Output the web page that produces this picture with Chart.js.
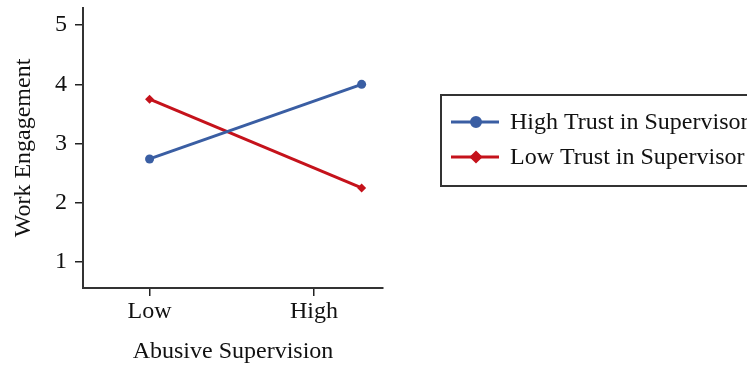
<!DOCTYPE html>
<html>
<head>
<meta charset="utf-8">
<script src="https://cdn.jsdelivr.net/npm/chart.js@4.4.1/dist/chart.umd.min.js"></script>
<style>
  html, body { margin: 0; padding: 0; background: #fff; }
  canvas { display: block; }
</style>
</head>
<body>
<canvas id="chart" width="747" height="367"></canvas>
<script>
// Data
const xTickValues = [0, 1];
const xTickLabels = ['Low', 'High'];
const pointX = [0, 1.29];          // where the points sit along the x axis
const highTrust = [2.74, 4.0];
const lowTrust = [3.75, 2.25];
const yTicks = [1, 2, 3, 4, 5];
const seriesNames = ['High Trust in Supervisor', 'Low Trust in Supervisor'];

const FONT = 'Liberation Serif, Times New Roman, serif';
const BLUE = '#3a5ea3';
const RED = '#c5121b';

// legend drawn as a framed box to the right, like the original
const boxLegend = {
  id: 'boxLegend',
  afterDraw(chart) {
    const ctx = chart.ctx;
    ctx.save();
    ctx.strokeStyle = '#333';
    ctx.lineWidth = 2;
    ctx.strokeRect(441, 95, 330, 91);
    chart.data.datasets.forEach((ds, i) => {
      const y = 122 + i * 35;
      ctx.strokeStyle = ds.borderColor;
      ctx.lineWidth = 3;
      ctx.beginPath();
      ctx.moveTo(451, y);
      ctx.lineTo(499, y);
      ctx.stroke();
      ctx.fillStyle = ds.backgroundColor;
      Chart.helpers.drawPoint(ctx, {
        pointStyle: ds.pointStyle,
        radius: ds.pointRadius,
        borderWidth: 1
      }, 476, y);
      ctx.fillStyle = '#111';
      ctx.font = '24px ' + FONT;
      ctx.textBaseline = 'middle';
      ctx.textAlign = 'left';
      ctx.fillText(ds.label, 510, y + 1);
    });
    ctx.restore();
  }
};

new Chart(document.getElementById('chart'), {
  type: 'line',
  data: {
    datasets: [
      {
        label: seriesNames[0],
        data: pointX.map((x, i) => ({ x, y: highTrust[i] })),
        borderColor: BLUE,
        backgroundColor: BLUE,
        borderWidth: 3,
        pointStyle: 'circle',
        pointRadius: 4.5,
        pointBorderWidth: 0
      },
      {
        label: seriesNames[1],
        data: pointX.map((x, i) => ({ x, y: lowTrust[i] })),
        borderColor: RED,
        backgroundColor: RED,
        borderWidth: 3,
        pointStyle: 'rectRot',
        pointRadius: 4.5,
        pointBorderWidth: 0
      }
    ]
  },
  options: {
    responsive: false,
    animation: false,
    layout: { padding: { left: 0, right: 364, top: 8, bottom: 0 } },
    plugins: {
      legend: { display: false },
      tooltip: { enabled: false }
    },
    scales: {
      x: {
        type: 'linear',
        min: -0.405,
        max: 1.42,
        afterBuildTicks: axis => { axis.ticks = xTickValues.map(v => ({ value: v })); },
        afterFit: axis => { axis.height = 79; axis.paddingLeft = 0; axis.paddingRight = 0; },
        ticks: {
          callback: v => xTickLabels[xTickValues.indexOf(v)],
          font: { family: FONT, size: 24 },
          color: '#111',
          padding: 1,
          maxRotation: 0
        },
        grid: {
          drawOnChartArea: false,
          tickLength: 8,
          color: '#222',
          lineWidth: 1.5
        },
        border: { color: '#333', width: 2 },
        title: {
          display: true,
          text: 'Abusive Supervision',
          font: { family: FONT, size: 24 },
          color: '#111',
          padding: { top: 0, bottom: 1 }
        }
      },
      y: {
        min: 0.56,
        max: 5.29,
        afterBuildTicks: axis => { axis.ticks = yTicks.map(v => ({ value: v })); },
        afterFit: axis => { axis.width = 83; axis.paddingTop = 0; axis.paddingBottom = 0; },
        ticks: {
          font: { family: FONT, size: 24 },
          color: '#111',
          padding: 8
        },
        grid: {
          drawOnChartArea: false,
          tickLength: 8,
          color: '#222',
          lineWidth: 1.5
        },
        border: { color: '#333', width: 2 },
        title: {
          display: true,
          text: 'Work Engagement',
          font: { family: FONT, size: 24 },
          color: '#111',
          padding: { top: 9, bottom: 0 }
        }
      }
    }
  },
  plugins: [boxLegend]
});
</script>
</body>
</html>
